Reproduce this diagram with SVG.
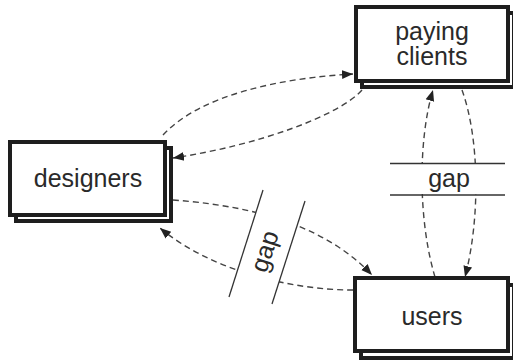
<svg xmlns="http://www.w3.org/2000/svg" width="513" height="363" viewBox="0 0 513 363">
<style>
.box{fill:#fff;stroke:#1e1e1e;stroke-width:4}
.lbl{font-family:"Liberation Sans",Arial,sans-serif;font-size:25px;fill:#2a2a2a;text-anchor:middle}
.dash{fill:none;stroke:#444;stroke-width:1.4;stroke-dasharray:6,4}
.gapline{stroke:#333;stroke-width:1.3;fill:none}
</style>
<defs>
<marker id="ah" viewBox="0 0 10 10" refX="10" refY="5" markerWidth="11" markerHeight="11" markerUnits="userSpaceOnUse" orient="auto">
<path d="M0,1 L10,5 L0,9 Z" fill="#222"/>
</marker>
</defs>
<rect width="513" height="363" fill="#fff"/>
<g id="connectors">
<path class="dash" d="M163,135 C200,95 280,78 353,74" marker-end="url(#ah)"/>
<path class="dash" d="M362,90 C340,115 260,145 173,158" marker-end="url(#ah)"/>
<path class="dash" d="M173,200 C240,205 320,220 372,275" marker-end="url(#ah)"/>
<path class="dash" d="M353,290 C290,290 210,270 160,228" marker-end="url(#ah)"/>
<path class="dash" d="M435,277 C418,220 418,140 433,90" marker-end="url(#ah)"/>
<path class="dash" d="M462,90 C480,140 480,220 465,277" marker-end="url(#ah)"/>
</g>
<g id="gap-left">
<polygon points="263,190 305,201 272,304 229,297" fill="#fff"/>
<line class="gapline" x1="263" y1="190" x2="229" y2="297"/>
<line class="gapline" x1="305" y1="201" x2="272" y2="304"/>
<text class="lbl" transform="translate(267,252) rotate(-72)" dy="6">gap</text>
</g>
<g id="gap-right">
<rect x="390" y="164" width="115" height="30" fill="#fff"/>
<line class="gapline" x1="390" y1="163.5" x2="505" y2="163.5"/>
<line class="gapline" x1="390" y1="195" x2="505" y2="195"/>
<text class="lbl" x="449" y="187">gap</text>
</g>
<g id="designers">
<rect class="box" x="16" y="148" width="155" height="73"/>
<rect class="box" x="10" y="142" width="155" height="73"/>
<text class="lbl" x="88" y="187">designers</text>
</g>
<g id="paying-clients">
<rect class="box" x="362" y="13" width="152" height="74"/>
<rect class="box" x="356" y="7" width="152" height="74"/>
<text class="lbl" x="432" y="40">paying</text>
<text class="lbl" x="432" y="65">clients</text>
</g>
<g id="users">
<rect class="box" x="361" y="285" width="153" height="73"/>
<rect class="box" x="355" y="278" width="153" height="73"/>
<text class="lbl" x="432" y="325">users</text>
</g>
</svg>
